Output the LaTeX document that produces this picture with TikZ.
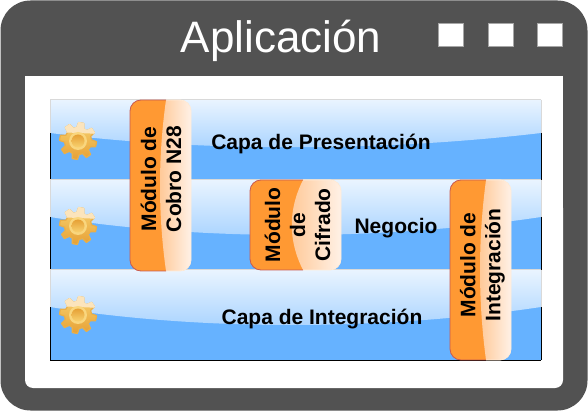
\documentclass[tikz,border=0pt]{standalone}
\usepackage{fontspec}
\setmainfont{Liberation Sans}
\definecolor{frame}{HTML}{525252}
\definecolor{bandblue}{HTML}{66B2FF}
\definecolor{bandtop}{HTML}{E9F4FF}
\definecolor{bandmid}{HTML}{A6D2FF}
\definecolor{modorange}{HTML}{FF9933}
\definecolor{modedge}{HTML}{C85A50}
\definecolor{gloss}{HTML}{FFC794}
\definecolor{glossend}{HTML}{FFF1E6}
\definecolor{gearlight}{HTML}{F8D270}
\definecolor{geardark}{HTML}{E6A035}
\definecolor{gearpale}{HTML}{FBE4BC}
\definecolor{gearhole}{HTML}{E8A63C}
\newcommand{\gearpath}{(10:18.5) foreach \a in {10,55,...,325}{
        -- (\a-8:18.5) -- (\a+8:18.5) -- (\a+15:13.5) -- (\a+30:13.5) -- (\a+37:18.5)
      } -- cycle}
\tikzset{
  x=1pt,y=-1pt,
  label text/.style={font=\bfseries\fontsize{21}{25}\selectfont,text=black,align=center,inner sep=0pt},
  module text/.style={label text,rotate=90},
  win button/.style={fill=white,draw=black!35,line width=.4pt},
  gearshape/.pic={
    \shade[top color=gearlight,bottom color=geardark,draw=geardark!70!gearlight,line width=1.2pt,line join=round] \gearpath;
    \begin{scope}
      \clip (-24,-24) -- (24,-24) -- (24,-7) -- (-24,-9) -- cycle;
      \fill[gearpale,draw=gearpale,line width=1.2pt,line join=round] \gearpath;
    \end{scope}
    \fill[gearlight!90!white] (0,0) circle (9);
    \shade[top color=geardark,bottom color=gearlight] (0,0) circle (6.5);
  }
}
\newcommand{\bandshape}[6]{%
  % #1 top, #2 bottom, #3 wave y at the edges, #4 #5 control y, #6 blue bottom
  \fill[bandblue] (50,#1) rectangle (541,#2);
  \shade[top color=bandtop,bottom color=bandmid]
    (50,#1) -- (541,#1) -- (541,#3) .. controls (380,#5) and (200,#4) .. (50,#3) -- cycle;
  \draw[black!15,line width=1pt] (50,#1) -- (541,#1);
  \draw[black!15,line width=.6pt] (50,#1) -- (50,#3) (541,#1) -- (541,#3);
  \draw[black,line width=.8pt] (50,#3) -- (50,#6) (541,#3) -- (541,#6);
}
\newcommand{\modshape}[6]{%
  % #1 left, #2 top, #3 right, #4 bottom, #5 divider edge x, #6 divider control x
  \begin{scope}
    \clip[rounded corners=11pt] (#1,#2) rectangle (#3,#4);
    \fill[modorange] (#1,#2) rectangle (#3,#4);
    \shade[left color=gloss,right color=glossend]
      (#5,#2) .. controls (#6,{#2+(#4-#2)*0.33}) and (#6,{#2+(#4-#2)*0.67}) .. (#5,#4) -- (#3,#4) -- (#3,#2) -- cycle;
  \end{scope}
  \begin{scope}
    \clip (#1-1,#2-1) rectangle (#5,#4+1);
    \draw[modedge,line width=.8pt,rounded corners=11pt] (#1,#2) rectangle (#3,#4);
  \end{scope}
  \begin{scope}
    \clip (#5,#2-1) rectangle (#3+1,#4+1);
    \draw[white!85!orange,line width=.8pt,rounded corners=11pt] (#1,#2) rectangle (#3,#4);
  \end{scope}
}
\begin{document}
\begin{tikzpicture}
\useasboundingbox (0,0) rectangle (588,411);
\fill[frame,rounded corners=30pt] (0.5,0.5) rectangle (587.5,410.5);
\fill[white,rounded corners=8pt] (25,200) -- (25,388) -- (563,388) -- (563,200) -- cycle;
\fill[white] (25,76) rectangle (563,300);
\node[font=\fontsize{44}{50}\selectfont,text=white,inner sep=0pt] (title) at (281,41) {Aplicación};
\node[win button,minimum width=25pt,minimum height=23pt,inner sep=0pt] (btnA) at (451,35) {};
\node[win button,minimum width=25pt,minimum height=23pt,inner sep=0pt] (btnB) at (501,35) {};
\node[win button,minimum width=25pt,minimum height=23pt,inner sep=0pt] (btnC) at (550,35) {};
% bands
\bandshape{100}{180}{133}{152}{152}{180}
\bandshape{180}{270}{217}{241}{241}{270}
\bandshape{270}{360}{307}{331}{331}{360}
\draw[black,line width=.8pt] (50,360) -- (541,360);
% gears
\pic at (78,141) {gearshape};
\pic at (78,226) {gearshape};
\pic at (78,315) {gearshape};
% modules
\modshape{130}{100}{191}{271}{166}{158}
\modshape{250}{180}{341}{270}{303}{288}
\modshape{450}{180}{511}{360}{486}{478}
\node[module text] (m1) at (161,179) {Módulo de\\Cobro N28};
\node[module text] (m2) at (297.5,225) {Módulo\\de\\Cifrado};
\node[module text] (m3) at (482.5,265) {Módulo de\\Integración};
\node[label text] (pres) at (321,144) {Capa de Presentación};
\node[label text] (neg) at (396,228) {Negocio};
\node[label text] (integ) at (322,319) {Capa de Integración};
\end{tikzpicture}
\end{document}
